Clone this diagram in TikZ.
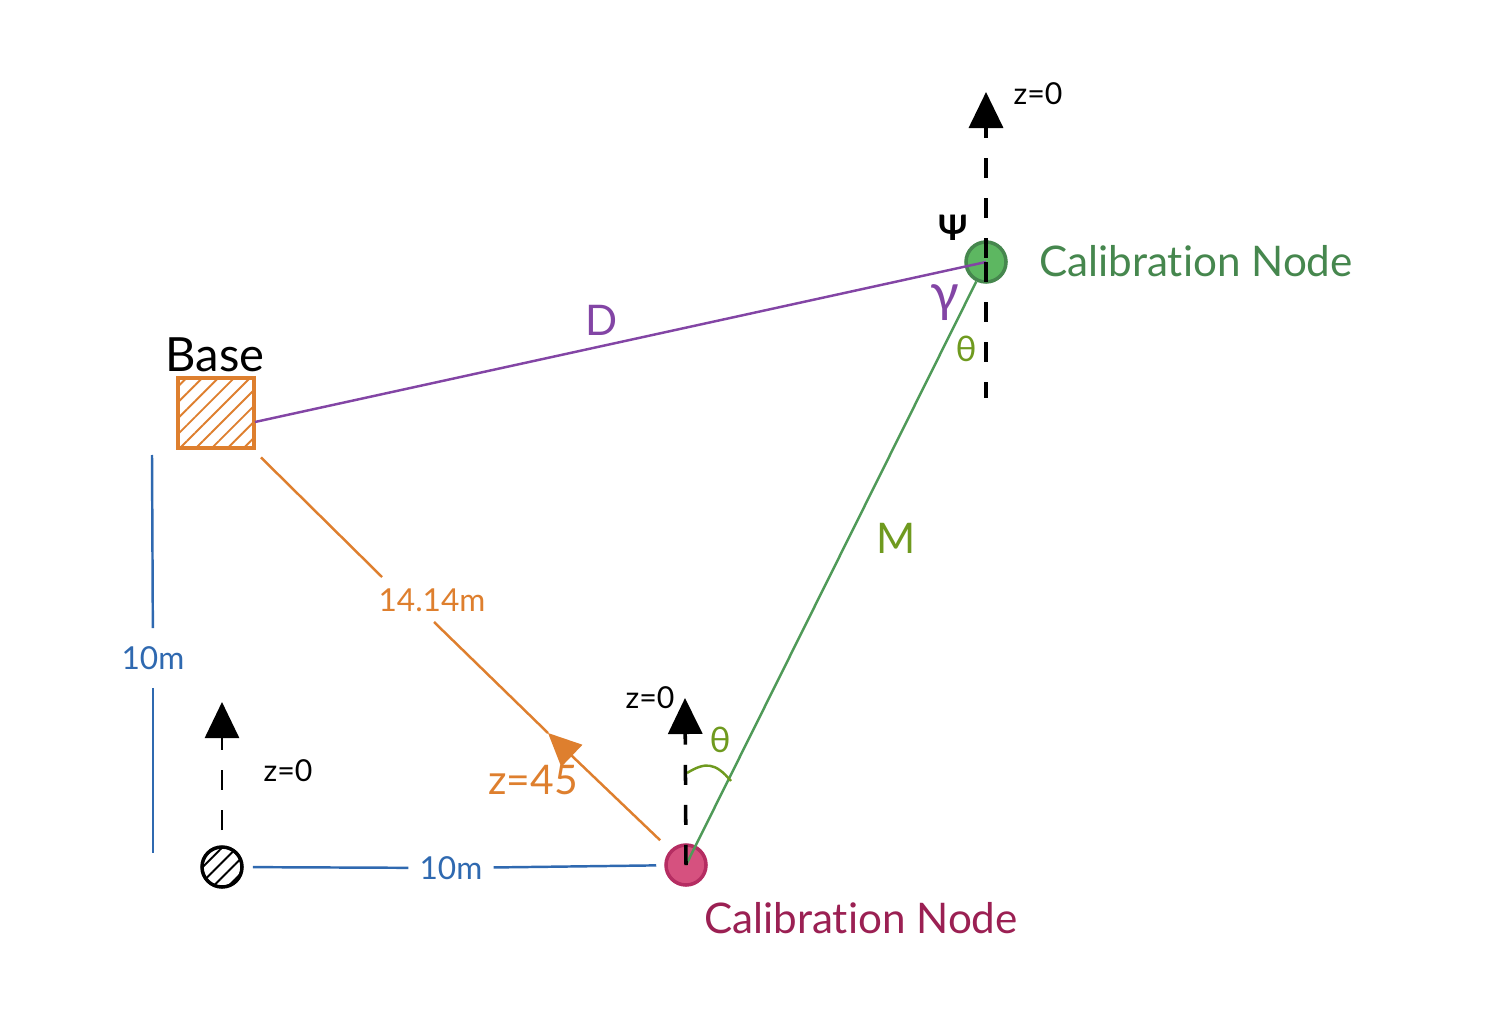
\documentclass[tikz,border=0pt]{standalone}
\usepackage{fontspec}
\setmainfont{Lato}[Ligatures=NoCommon]
\usetikzlibrary{arrows.meta,patterns.meta}
\definecolor{baseorange}{HTML}{DE7F2E}
\definecolor{dimblue}{HTML}{2F69B0}
\definecolor{dpurple}{HTML}{8345A5}
\definecolor{mgreen}{HTML}{4F9A58}
\definecolor{nodegreen}{HTML}{5DB761}
\definecolor{textgreen}{HTML}{46874E}
\definecolor{olive}{HTML}{6F9A1F}
\definecolor{nodepink}{HTML}{D6517F}
\definecolor{edgepink}{HTML}{B52D62}
\definecolor{textpink}{HTML}{9B2053}
\begin{document}
\begin{tikzpicture}[
			x=0.01cm,
			y=-0.01cm,
			small/.style={font=\fontsize{8.6}{10}\selectfont},
			medium/.style={font=\fontsize{9}{11}\selectfont},
			large/.style={font=\fontsize{12}{14}\selectfont},
			station/.style={circle,draw,inner sep=0pt,minimum size=0.4cm,line width=1pt},
			hatch/.style={pattern={Lines[angle=45,distance=#1,line width=0.55pt]}},
			zarrow/.style={line width=#1,dash pattern=on 5.7pt off 5.7pt,-{Triangle[length=0.36cm,width=0.34cm]}},
			dimline/.style={dimblue,line width=0.7pt},
			rangeline/.style={baseorange,line width=0.7pt}
			]

				\useasboundingbox (0,0) rectangle (1510,1010);

				\node[draw=baseorange,line width=1.1pt,hatch=3.2pt,pattern color=baseorange,
					minimum width=0.76cm,minimum height=0.7cm,inner sep=0pt] (base) at (216,413) {};
				\node[station,fill=nodepink,draw=edgepink] (calA) at (686,865) {};
				\node[station,fill=nodegreen,draw=textgreen] (calB) at (986,262) {};
				\node[station,draw=black,hatch=3pt,pattern color=black] (origin) at (222,867) {};

				\node[black,font=\fontsize{13.4}{16}\selectfont] (baselabel) at (215,355) {Base};
				\node[large,textgreen] (calBlabel) at (1196,261) {Calibration Node};
				\node[large,textpink] (calAlabel) at (861,918) {Calibration Node};
				\node[medium,dimblue,inner xsep=3pt] (dimH) at (451,868) {10m};
				\node[medium,dimblue,inner ysep=5pt] (dimV) at (153,658) {10m};
				\node[medium,baseorange] (rangelabel) at (432,600) {14.14m};
				\node[baseorange,font=\fontsize{11.6}{14}\selectfont] (anglelabel) at (533,780) {z=45};
				\node[small,black] (zlabelA) at (650,698) {z=0};
				\node[small,black] (zlabelB) at (1038,94) {z=0};
				\node[small,black] (zlabelO) at (288,771) {z=0};
				\node[large,dpurple] (dlabel) at (602,320) {D};
				\node[large,olive] (mlabel) at (896,538) {M};
				\node[dpurple,font=\fontsize{15}{18}\selectfont] (gammalabel) at (945,303) {γ};
				\node[font=\fontsize{10}{12}\selectfont,olive] (thetaB) at (966,349) {θ};
				\node[font=\fontsize{10}{12}\selectfont,olive] (thetaA) at (720,740) {θ};
				\node[black,font=\bfseries\fontsize{10}{12}\selectfont] (psilabel) at (953,228) {Ψ};

				\coordinate (rangeA) at (382,577);
				\coordinate (rangeB) at (434,622);
				\coordinate (rangetip) at (548,733);
				\coordinate (dimtop) at (152,455);
				\coordinate (dimbot) at (153,853);
				\coordinate (zbotB) at (986,398);
				\coordinate (zstartB) at (986,258);
				\coordinate (ztopB) at (986,92);
				\coordinate (ztopA) at (685,698);
				\coordinate (zstartO) at (222,830);
				\coordinate (ztopO) at (222,702);
				\coordinate (arcA) at (687,773);
				\coordinate (arcB) at (731,781);

				\draw[dimline,shorten <=0.1cm] (origin) -- (dimH);
				\draw[dimline,shorten >=0.08cm] (dimH) -- (calA);
				\draw[dimline] (dimtop) -- (dimV);
				\draw[dimline] (dimV) -- (dimbot);

				\draw[rangeline,shorten <=0.12cm] (base) -- (rangeA);
				\draw[rangeline] (rangeB) -- (rangetip);
				\draw[rangeline,shorten <=0.14cm,-{Triangle[length=0.33cm,width=0.3cm]}] (calA) -- (rangetip);

				\draw[dpurple,line width=0.7pt] (base.-13) -- (calB.center);
				\draw[mgreen,line width=0.7pt] (calA.center) -- (calB);
				\draw[olive,line width=0.7pt] (arcA) .. controls (705,762) and (715,762) .. (arcB);

				\draw[zarrow=1pt] (calA.center) -- (ztopA);
				\draw[line width=1pt,dash pattern=on 5.7pt off 5.7pt,dash phase=1.1pt] (zbotB) -- (calB.center);
				\draw[zarrow=1pt] (zstartB) -- (ztopB);
				\draw[zarrow=0.75pt] (zstartO) -- (ztopO);

			\end{tikzpicture}
\end{document}
